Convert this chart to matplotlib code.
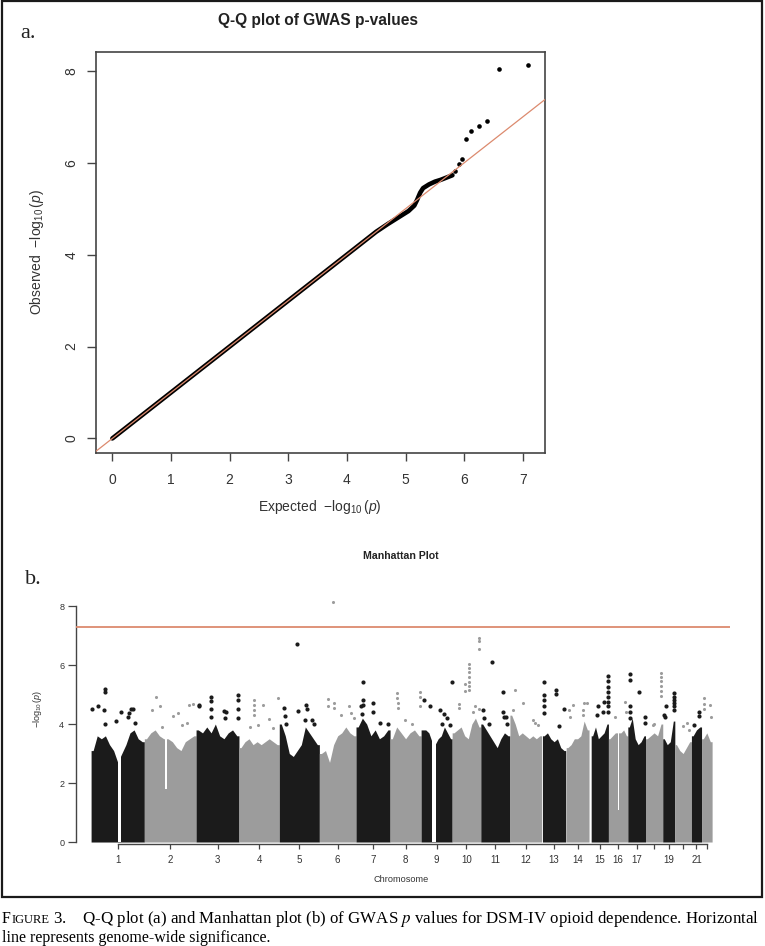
import numpy as np
import matplotlib
matplotlib.use("Agg")
import matplotlib.pyplot as plt
from matplotlib.patches import Rectangle

plt.rcParams['font.family'] = ['Liberation Sans', 'DejaVu Sans']
plt.rcParams['mathtext.fontset'] = 'custom'
plt.rcParams['mathtext.rm'] = 'Liberation Sans'
plt.rcParams['mathtext.it'] = 'Liberation Sans:italic'

W, H = 765, 946

# ---- Q-Q plot data ----
qq_expected = [0.0, 1.0, 2.0, 3.0, 4.0, 4.5, 4.7, 4.9, 5.05, 5.15, 5.2, 5.25, 5.3, 5.4, 5.5, 5.6, 5.7, 5.8]
qq_observed = [0.0, 1.0, 2.0, 3.0, 4.0, 4.5, 4.67, 4.83, 4.95, 5.07, 5.2, 5.35, 5.45, 5.53, 5.59, 5.63, 5.68, 5.73]
qq_top_expected = [5.85, 5.91, 5.96, 6.04, 6.12, 6.25, 6.39, 6.60, 7.09]
qq_top_observed = [5.83, 5.98, 6.08, 6.53, 6.70, 6.81, 6.91, 8.04, 8.13]

# ---- Manhattan data (Mb along the genome) ----
chromosomes = [str(i) for i in range(1, 23)]
chrom_labels = ['1', '2', '3', '4', '5', '6', '7', '8', '9', '10', '11', '12',
                '13', '14', '15', '16', '17', '', '19', '', '21', '']
chrom_start = [0, 247, 487, 686, 873, 1059, 1229, 1387, 1531, 1675, 1808,
               1943, 2094, 2204, 2320, 2400, 2490, 2572, 2652, 2708, 2785, 2832]
chrom_end = [247, 487, 686, 873, 1059, 1229, 1387, 1531, 1675, 1808, 1943,
             2090, 2202, 2310, 2400, 2490, 2572, 2652, 2708, 2785, 2832, 2881]

# top of the dense block of SNPs, left to right within each chromosome
body_tops = [
    [3.1, 3.6, 3.5, 3.6, 3.3, 3.1, 2.7, 3.0, 3.3, 3.7, 3.8, 3.5, 3.4],
    [3.5, 3.7, 3.8, 3.6, 3.5, 3.5, 3.4, 3.2, 3.1, 3.4, 3.5, 3.6],
    [3.8, 3.7, 3.9, 3.7, 4.0, 3.6, 3.5, 3.7, 3.8, 3.6],
    [3.2, 3.4, 3.5, 3.3, 3.4, 3.3, 3.4, 3.5, 3.4, 3.3],
    [4.0, 3.6, 3.0, 2.9, 3.1, 3.3, 3.9, 3.7, 3.5, 3.3],
    [3.0, 3.1, 2.7, 3.3, 3.6, 3.7, 3.9, 3.7, 3.6],
    [3.9, 4.2, 4.0, 3.6, 3.8, 3.5, 3.6, 3.8],
    [3.5, 3.9, 3.7, 3.5, 3.7, 3.8, 3.6],
    [3.8, 3.8, 3.7, 3.4, 3.3, 3.5, 3.6, 3.9, 3.7, 3.5],
    [3.7, 3.8, 3.9, 3.6, 3.5, 4.0, 4.2, 3.9],
    [4.0, 3.8, 3.6, 3.4, 3.2, 3.5, 3.7, 3.6],
    [4.3, 4.0, 3.6, 3.7, 3.6, 3.5, 3.6, 3.5, 3.6],
    [3.6, 3.7, 3.5, 3.4, 3.5, 3.2, 3.1],
    [3.2, 3.3, 3.5, 3.5, 3.6, 4.1, 3.8],
    [3.6, 3.9, 3.5, 3.6, 3.7, 4.0],
    [3.5, 3.6, 3.7, 3.7, 3.7, 3.8, 3.6],
    [3.9, 4.2, 3.5, 3.3, 3.4, 3.6],
    [3.5, 3.6, 3.7, 3.6, 4.0],
    [3.5, 3.3, 3.4, 4.1],
    [3.3, 3.1, 3.0, 3.2, 3.4],
    [3.6, 3.8, 3.9],
    [3.5, 3.7, 3.4],
]

# empty stretches (no SNPs above a floor): chromosome index, Mb from, Mb to, floor
gap_chrom = [0, 1, 8, 15]
gap_from = [127, 98, 51, 43]
gap_to = [137, 103, 71, 49]
gap_floor = [0.0, 1.8, 0.0, 1.1]

# single SNPs standing above the block: (Mb from chromosome start, -log10 p)
peaks = [
    [(5, 4.5), (30, 4.6), (64, 5.2), (64, 5.07), (62, 4.48), (64, 4.0), (116, 4.1),
     (171, 4.25), (177, 4.37), (183, 4.5), (195, 4.52), (203, 4.05), (140, 4.4)],
    [(35, 4.48), (54, 4.93), (72, 4.6), (82, 3.9), (132, 4.26), (158, 4.39),
     (174, 3.97), (197, 4.03), (208, 4.65), (224, 4.68)],
    [(13, 4.65), (15, 4.6), (68, 4.93), (68, 4.77), (68, 4.5), (70, 4.25), (128, 4.45),
     (140, 4.4), (135, 4.2), (196, 4.97), (196, 4.8), (196, 4.5), (196, 4.2)],
    [(51, 3.9), (68, 4.82), (68, 4.65), (68, 4.48), (68, 4.3), (88, 3.97), (113, 4.65),
     (140, 4.16), (160, 3.85), (181, 4.87)],
    [(22, 4.55), (26, 4.26), (30, 4.0), (80, 6.7), (86, 4.45), (118, 4.14), (124, 4.65),
     (127, 4.5), (151, 4.14), (160, 4.0)],
    [(38, 4.85), (40, 4.6), (63, 8.12), (67, 4.7), (66, 4.55), (100, 4.3), (136, 4.6),
     (147, 4.37), (160, 4.2)],
    [(23, 4.6), (34, 5.43), (34, 4.82), (34, 4.65), (30, 4.35), (79, 4.7), (78, 4.42),
     (113, 4.03), (150, 4.0)],
    [(34, 5.04), (34, 4.87), (36, 4.7), (36, 4.55), (68, 4.14), (100, 4.0), (139, 4.6),
     (141, 4.9), (141, 5.07)],
    [(13, 4.82), (40, 4.6), (87, 4.48), (99, 4.0), (107, 4.34), (118, 4.2), (133, 3.97),
     (143, 5.44)],
    [(32, 4.69), (32, 4.54), (59, 5.36), (59, 5.12), (79, 6.04), (79, 5.9), (79, 5.75),
     (79, 5.6), (79, 5.44), (79, 5.3), (79, 5.15), (105, 4.6), (95, 4.4), (124, 6.93),
     (124, 6.82), (124, 6.55), (124, 4.5)],
    [(11, 4.46), (14, 4.2), (54, 6.09), (40, 4.0), (104, 5.1), (104, 4.4), (106, 4.25),
     (116, 4.25), (120, 4.0)],
    [(15, 4.48), (23, 5.16), (62, 4.71), (108, 4.14), (116, 4.03), (130, 3.95)],
    [(6, 5.41), (6, 4.99), (6, 4.82), (6, 4.6), (6, 4.37), (62, 5.16), (62, 5.02),
     (77, 3.93), (100, 4.5)],
    [(14, 4.48), (17, 4.25), (30, 4.63), (76, 4.48), (80, 4.3), (84, 4.71), (95, 4.71)],
    [(32, 4.6), (25, 4.3), (60, 4.76), (55, 4.4), (77, 5.63), (77, 5.45), (77, 5.27),
     (77, 5.1), (77, 4.93), (77, 4.76), (77, 4.6), (77, 4.4)],
    [(29, 4.25), (77, 4.76), (80, 4.4)],
    [(12, 5.68), (12, 5.48), (12, 4.6), (12, 4.4), (12, 4.2), (52, 5.07), (79, 4.25),
     (79, 4.03)],
    [(70, 5.72), (70, 5.6), (70, 5.45), (70, 5.3), (70, 5.12), (70, 4.95), (35, 3.98),
     (40, 4.0)],
    [(6, 4.3), (9, 4.25), (14, 4.6), (51, 5.05), (51, 4.93), (51, 4.82), (51, 4.7),
     (51, 4.6), (51, 4.48)],
    [(39, 3.92), (57, 4.03), (68, 3.8)],
    [(11, 3.97), (35, 4.4), (35, 4.28)],
    [(11, 4.88), (11, 4.69), (11, 4.52), (38, 4.63), (46, 4.23)],
]

significance = 7.3

dark = '#1b1b1b'
light = '#9c9c9c'
red = '#dc8a6e'
axis_col = '#444444'

fig = plt.figure(figsize=(W / 100, H / 100), dpi=100)


def fx(px):
    return px / W


def fy(py):
    return 1 - py / H


# outer frame
fig.patches.append(Rectangle((fx(1.5), fy(897)), fx(762) - fx(1.5), fy(1.5) - fy(897),
                             transform=fig.transFigure, fill=False,
                             edgecolor='#1a1a1a', lw=1.6))

# ---------------- a. Q-Q plot ----------------
ax1 = fig.add_axes([fx(95.7), fy(453.3), fx(545.3) - fx(95.7), fy(51.7) - fy(453.3)])
ax1.plot(qq_expected, qq_observed, color='black', lw=3.3,
         solid_capstyle='round', solid_joinstyle='round', zorder=2)
ax1.scatter(qq_top_expected, qq_top_observed, s=11, color='black', lw=0, zorder=2)
ax1.axline((0, 0), slope=1, color=red, lw=0.9, zorder=3)
ax1.set_xlim(-0.284, 7.384)
ax1.set_ylim(-0.324, 8.42)
ax1.set_xticks(range(0, 8))
ax1.set_yticks([0, 2, 4, 6, 8])
for s in ax1.spines.values():
    s.set_color(axis_col)
    s.set_linewidth(1.2)
ax1.tick_params(axis='x', length=5.5, width=1.0, color=axis_col, pad=9,
                labelsize=10, labelcolor='#333333')
ax1.tick_params(axis='y', length=6.5, width=1.0, color=axis_col, pad=6,
                labelsize=10, labelcolor='#333333', labelrotation=90)
for lab in ax1.get_yticklabels():
    lab.set_va('center')

fig.text(fx(318), fy(21), 'Q-Q plot of GWAS p-values', fontsize=11.2,
         fontweight='bold', ha='center', va='center', color='#222222')
fig.text(fx(320), fy(507), r'Expected  $-\log_{10}(p)$', fontsize=10,
         ha='center', va='center', color='#333333')
fig.text(fx(36.5), fy(252), r'Observed  $-\log_{10}(p)$', fontsize=10,
         ha='center', va='center', rotation=90, color='#333333')
fig.text(fx(20), fy(38), 'a.', fontsize=16, family='Liberation Serif',
         ha='left', va='baseline', color='#222222')

# ---------------- b. Manhattan plot ----------------
ax2 = fig.add_axes([fx(76), fy(843.5), fx(730) - fx(76), fy(576.5) - fy(843.5)])
for i in range(len(chromosomes)):
    col = dark if i % 2 == 0 else light
    tops = body_tops[i]
    n = len(tops)
    step = (chrom_end[i] - chrom_start[i]) / n
    xs = [chrom_start[i]] + [chrom_start[i] + step * (k + 0.5) for k in range(n)] + [chrom_end[i]]
    ys = [tops[0]] + tops + [tops[-1]]
    ax2.fill_between(xs, 0, ys, color=col, lw=0, zorder=1)
    px = [chrom_start[i] + p for p, v in peaks[i]]
    py = [v for p, v in peaks[i]]
    ax2.scatter(px, py, s=9 if col == dark else 5, color=col, lw=0, zorder=3)

for c, a, b, f in zip(gap_chrom, gap_from, gap_to, gap_floor):
    ax2.fill_between([chrom_start[c] + a, chrom_start[c] + b], f, 5.0,
                     color='white', lw=0, zorder=2)

ax2.axhline(significance, color=red, lw=1.3, zorder=4)
ax2.set_xlim(-70, 2964)
ax2.set_ylim(-0.05, 9.0)
mids = [(a + b) / 2 for a, b in zip(chrom_start, chrom_end)]
ax2.set_xticks(mids)
ax2.set_xticklabels(chrom_labels)
ax2.set_yticks([0, 2, 4, 6, 8])
ax2.spines['top'].set_visible(False)
ax2.spines['right'].set_visible(False)
ax2.spines['left'].set_bounds(0, 8)
ax2.spines['bottom'].set_bounds(mids[0], mids[-1])
for s in ('left', 'bottom'):
    ax2.spines[s].set_color(axis_col)
    ax2.spines[s].set_linewidth(1.0)
ax2.tick_params(axis='x', length=3.6, width=0.9, color=axis_col, pad=4.5,
                labelsize=7, labelcolor='#333333')
ax2.tick_params(axis='y', length=5.5, width=0.9, color=axis_col, pad=3,
                labelsize=6.5, labelcolor='#333333')

fig.text(fx(401), fy(556), 'Manhattan Plot', fontsize=7.6, fontweight='bold',
         ha='center', va='center', color='#222222')
fig.text(fx(401), fy(879), 'Chromosome', fontsize=6.6, ha='center', va='center',
         color='#333333')
fig.text(fx(37), fy(709), r'$-\log_{10}(p)$', fontsize=6.5, ha='center', va='center',
         rotation=90, color='#333333')
fig.text(fx(25), fy(584), 'b.', fontsize=16, family='Liberation Serif',
         ha='left', va='baseline', color='#222222')

# ---------------- caption ----------------
renderer = fig.canvas.get_renderer()
serif = 'Liberation Serif'
cap_size = 11.5
line1 = r'3.    Q-Q plot (a) and Manhattan plot (b) of GWAS $\it{p}$ values for DSM-IV opioid dependence. Horizontal'
t_f = fig.text(fx(2), fy(923), 'F', fontsize=cap_size, family=serif, va='baseline')
x_now = 2 + t_f.get_window_extent(renderer).width + 0.5
t_ig = fig.text(fx(x_now), fy(923), 'IGURE', fontsize=cap_size * 0.78, family=serif,
                va='baseline')
x_now += t_ig.get_window_extent(renderer).width + 4
t_rest = fig.text(fx(x_now), fy(923), line1, fontsize=cap_size, family=serif,
                  va='baseline', math_fontfamily='stix')
w_rest = t_rest.get_window_extent(renderer).width
t_rest.set_fontsize(cap_size * (763 - x_now) / w_rest)
fig.text(fx(2), fy(942), 'line represents genome-wide significance.',
         fontsize=cap_size, family=serif, va='baseline')

fig.savefig('out.png', dpi=100)
